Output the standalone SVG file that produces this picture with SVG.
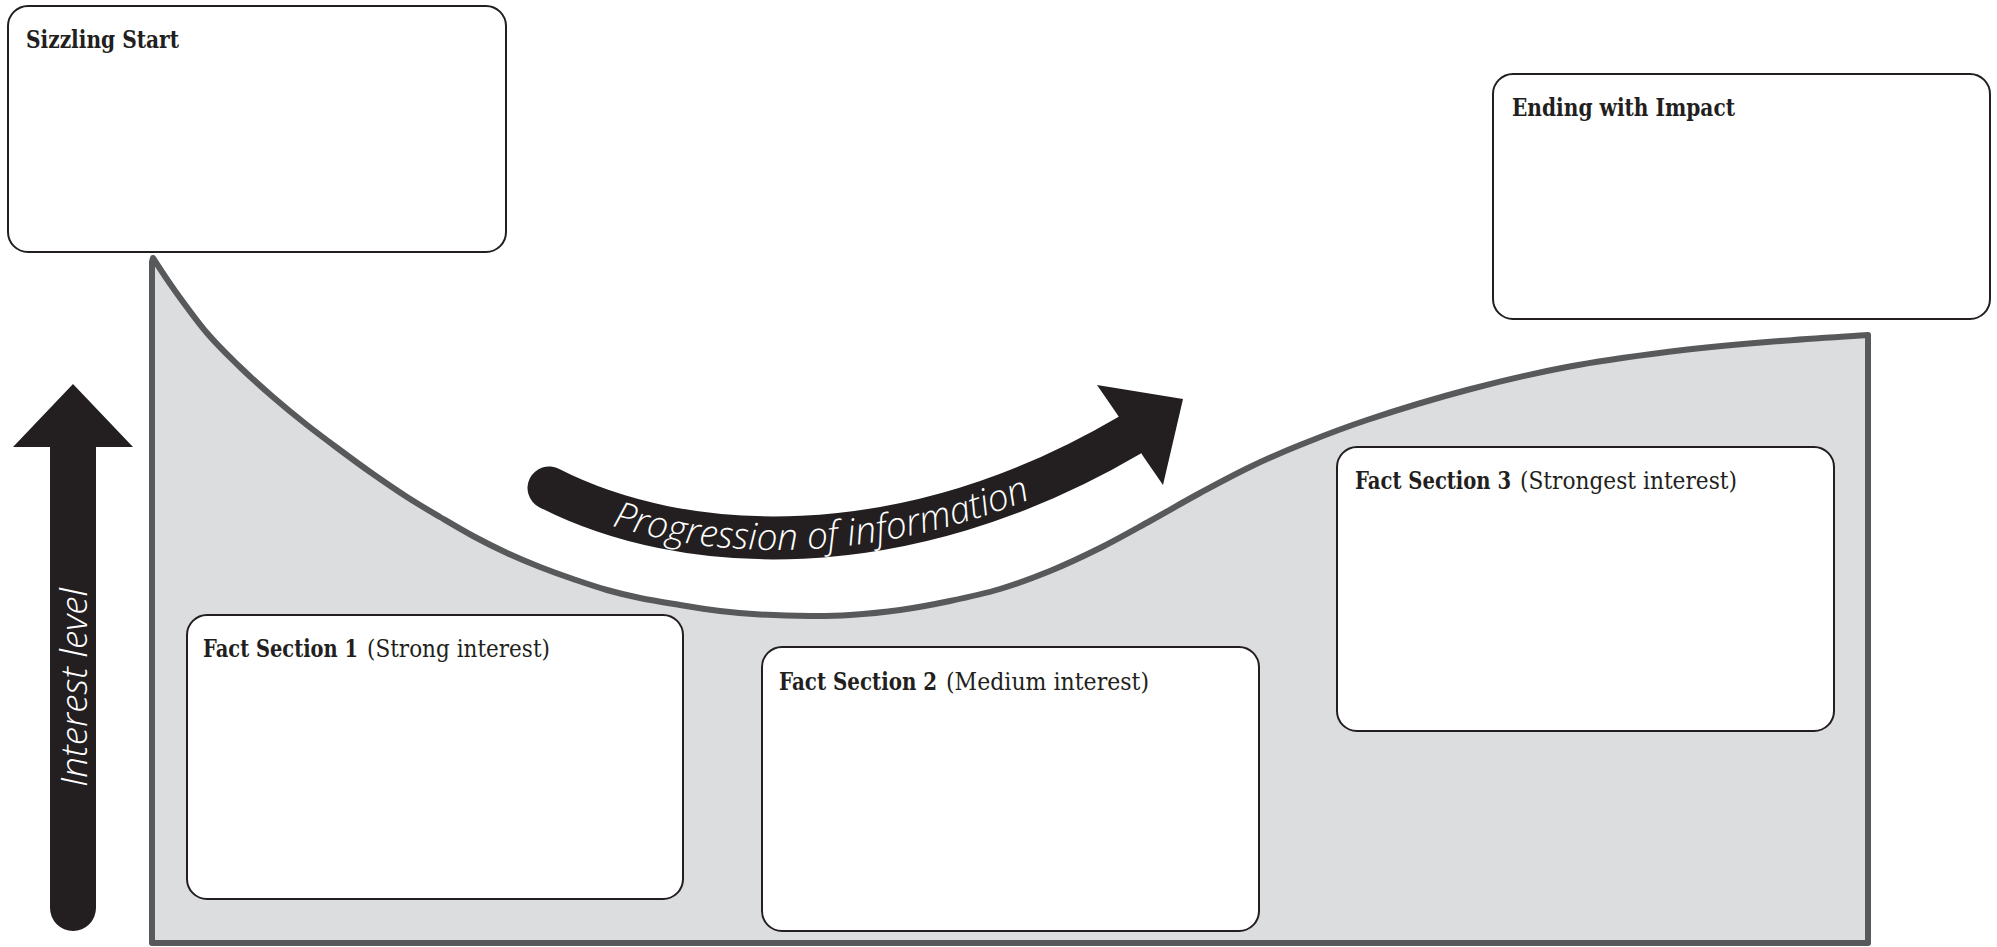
<svg xmlns="http://www.w3.org/2000/svg" width="1997" height="947" viewBox="0 0 1997 947">
<style>
.box{fill:#ffffff;stroke:#231f20;stroke-width:2}
.ttl{font-family:"DejaVu Serif","Liberation Serif",serif;font-size:24px;fill:#231f20}
.b{font-weight:bold}
.wl{font-family:"Open Sans","Noto Sans","DejaVu Sans",sans-serif;font-style:italic;font-weight:300;font-size:37px;fill:#ffffff}
.ink{fill:#231f20}
</style>
<defs>
<path id="progBase" d="M549,500 C680,567 905,582 1137,447"/>
</defs>
<rect width="1997" height="947" fill="#ffffff"/>
<g id="curve-area">
<path d="M153,258 C156.3,263 164,275.5 173,288 C182,300.5 195.8,319.8 207,333 C218.2,346.2 229,356.3 240,367 C251,377.7 261.8,387.3 273,397 C284.2,406.7 295.8,416.2 307,425 C318.2,433.8 329,441.8 340,450 C351,458.2 361.8,466.2 373,474 C384.2,481.8 395.8,489.8 407,497 C418.2,504.2 429,510.5 440,517 C451,523.5 461.8,530 473,536 C484.2,542 495.8,547.8 507,553 C518.2,558.2 529,562.7 540,567 C551,571.3 561.8,575.2 573,579 C584.2,582.8 595.8,586.8 607,590 C618.2,593.2 627.8,595.5 640,598 C652.2,600.5 666.7,602.8 680,605 C693.3,607.2 706.7,609.4 720,611 C733.3,612.6 745,613.7 760,614.5 C775,615.3 795,615.9 810,616 C825,616.1 835,616 850,615 C865,614 883.3,612.3 900,610 C916.7,607.7 933.3,604.5 950,601 C966.7,597.5 983.3,594 1000,589 C1016.7,584 1033.3,577.8 1050,571 C1066.7,564.2 1083.3,556.3 1100,548 C1116.7,539.7 1133.3,530.2 1150,521 C1166.7,511.8 1183.3,502 1200,493 C1216.7,484 1233.3,475 1250,467 C1266.7,459 1280.5,452.8 1300,445 C1319.5,437.2 1339.2,429.2 1367,420 C1394.8,410.8 1433.7,398.8 1467,390 C1500.3,381.2 1533.7,373.3 1567,367 C1600.3,360.7 1633.7,356.2 1667,352 C1700.3,347.8 1733.5,344.8 1767,342 C1800.5,339.2 1851.2,336.2 1868,335 L1868,943 L152,943 L152,262 Z" fill="#dcdddf" stroke="#58595b" stroke-width="6" stroke-linejoin="round"/>
</g>
<g id="connectors">
<g id="progression-arrow">
<path d="M549,488 C680,555 900,570 1130,435" fill="none" stroke="#231f20" stroke-width="43" stroke-linecap="round"/>
<polygon class="ink" points="1117,414 1097,385 1183,399 1163,485 1143,456"/>
<text class="wl"><textPath href="#progBase" startOffset="68">Progression of information</textPath></text>
</g>
<g id="interest-arrow">
<path class="ink" d="M73,384 L133,447 L96,447 L96,908 A23,23 0 0 1 50,908 L50,447 L13,447 Z"/>
<text class="wl" transform="translate(87,787) rotate(-90)">Interest level</text>
</g>
</g>
<g id="sizzling-start">
<rect class="box" x="8" y="6" width="498" height="246" rx="20"/>
<text class="ttl b" x="26" y="48" textLength="153" lengthAdjust="spacingAndGlyphs">Sizzling Start</text>
</g>
<g id="ending-with-impact">
<rect class="box" x="1493" y="74" width="497" height="245" rx="20"/>
<text class="ttl b" x="1512" y="116" textLength="223" lengthAdjust="spacingAndGlyphs">Ending with Impact</text>
</g>
<g id="fact-section-1">
<rect class="box" x="187" y="615" width="496" height="284" rx="20"/>
<text class="ttl b" x="203" y="657" textLength="155" lengthAdjust="spacingAndGlyphs">Fact Section 1</text>
<text class="ttl" x="367" y="657" textLength="183" lengthAdjust="spacingAndGlyphs">(Strong interest)</text>
</g>
<g id="fact-section-2">
<rect class="box" x="762" y="647" width="497" height="284" rx="20"/>
<text class="ttl b" x="779" y="690" textLength="158" lengthAdjust="spacingAndGlyphs">Fact Section 2</text>
<text class="ttl" x="946" y="690" textLength="203" lengthAdjust="spacingAndGlyphs">(Medium interest)</text>
</g>
<g id="fact-section-3">
<rect class="box" x="1337" y="447" width="497" height="284" rx="20"/>
<text class="ttl b" x="1355" y="489" textLength="156" lengthAdjust="spacingAndGlyphs">Fact Section 3</text>
<text class="ttl" x="1520" y="489" textLength="217" lengthAdjust="spacingAndGlyphs">(Strongest interest)</text>
</g>
</svg>
